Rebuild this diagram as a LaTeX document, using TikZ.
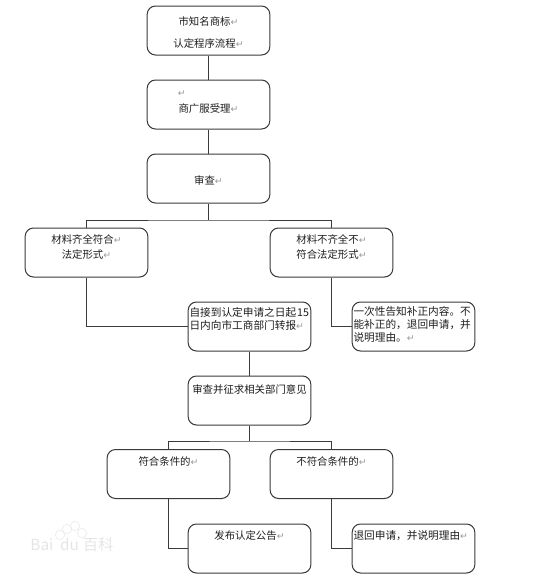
\documentclass[tikz,border=0pt]{standalone}
\usepackage{fontspec}
\setmainfont{Noto Sans CJK SC}
\newfontfamily\arrowfont{DejaVu Sans}
\usepackage{xcolor}
\usetikzlibrary{calc,positioning}
\definecolor{edge}{HTML}{3A3A3A}
\definecolor{ink}{HTML}{1E1E1E}
\newcommand{\parmark}{{\arrowfont\fontsize{7pt}{7pt}\selectfont\textcolor{black!40}{↵}}}
\tikzset{
  flowbox/.style={draw=edge,line width=0.75pt,rounded corners=2.2mm,fill=white,text=ink,
    minimum width=92pt,minimum height=36.75pt,inner sep=1pt,font=\fontsize{7.8pt}{11.2pt}\selectfont,align=center},
  leftbox/.style={flowbox,font=\fontsize{8pt}{11.2pt}\selectfont,align=left,text width=90pt},
  flowline/.style={draw=edge,line width=0.75pt}
}
\begin{document}
\begin{tikzpicture}[x=0.75pt,y=-0.75pt]
  \useasboundingbox (0,0) rectangle (543,582);
  % upper column
  \node[flowbox] (title) at (208.5,30.5) {\mbox{}\\[-2.1pt]市知名商标\parmark\\[5.5pt]认定程序流程\parmark};
  \node[flowbox] (accept) at (208.5,104.5) {\parmark\hspace{40pt}\mbox{}\\[0.8pt]商广服受理\parmark\\[-7pt]\mbox{}};
  \node[flowbox] (check) at (208.5,178.5) {\mbox{}\\[-1.7pt]审查\parmark};
  % material check
  \node[flowbox] (matok) at (86.5,252.5) {材料齐全符合\parmark\\法定形式\parmark\\[-2.5pt]\mbox{}};
  \node[flowbox] (matbad) at (331.5,252.5) {材料不齐全不\parmark\\符合法定形式\parmark\\[-2.5pt]\mbox{}};
  \node[leftbox] (transfer) at (249.5,326.5) {自接到认定申请之日起\hspace{0.8pt}15\\[-1.45pt]日内向市工商部门转报\parmark\\[0.8pt]\mbox{}};
  \node[leftbox] (notify) at (413.5,326.5) {一次性告知补正内容。不\\[-1.1pt]能补正的，退回申请，并\\[-1.1pt]说明理由。\parmark\\[-7.4pt]\mbox{}};
  \node[flowbox] (review) at (249.5,400.5) {审查并征求相关部门意见\\[6.6pt]\mbox{}};
  % results
  \node[flowbox] (okcase) at (168.5,474) {符合条件的\parmark\\[7.5pt]\mbox{}};
  \node[flowbox] (badcase) at (331.5,474) {不符合条件的\parmark\\[7.5pt]\mbox{}};
  \node[flowbox] (publish) at (249.5,548.5) {发布认定公告\parmark\\[9.5pt]\mbox{}};
  \node[leftbox] (reject) at (413.5,548.5) {退回申请，并说明理由\parmark\\[9.5pt]\mbox{}};
  % watermark
  \node[font=\fontsize{11.5pt}{12pt}\selectfont,text=black!10] (mark) at (72,545) {Bai\hspace{5pt}du\hspace{3pt}百科};
  \foreach \px/\py in {67/529,75/526,82/533,60/535}
    \draw[black!8,line width=0.5pt] (\px,\py) circle (3.5pt);
  % connectors
  \coordinate (busa) at ($(check.south)+(0,16.5)$);
  \coordinate (busb) at ($(review.south)+(0,15.5)$);
  \draw[flowline] (title) -- (accept);
  \draw[flowline] (accept) -- (check);
  \draw[flowline] (check) -- (busa);
  \draw[flowline] (matok.north) |- (busa) -| (matbad.north);
  \draw[flowline] (matok.south) |- (transfer.west);
  \draw[flowline] (matbad.south) |- (notify.west);
  \draw[flowline] (transfer) -- (review);
  \draw[flowline] (review) -- (busb);
  \draw[flowline] (okcase.north) |- (busb) -| (badcase.north);
  \draw[flowline] (okcase.south) |- (publish.west);
  \draw[flowline] (badcase.south) |- (reject.west);
\end{tikzpicture}
\end{document}
